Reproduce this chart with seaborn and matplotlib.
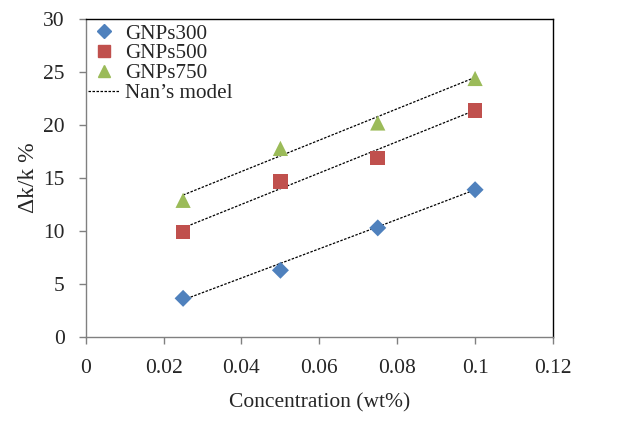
import matplotlib
matplotlib.use("Agg")
import matplotlib.pyplot as plt
import seaborn as sns
import pandas as pd
from matplotlib.lines import Line2D

concentration = [0.025, 0.05, 0.075, 0.1]
gnps300 = [3.65, 6.3, 10.3, 13.9]
gnps500 = [9.9, 14.7, 16.9, 21.4]
gnps750 = [12.9, 17.8, 20.2, 24.4]
model300 = [3.5, 6.95, 10.4, 13.9]
model500 = [10.3, 14.0, 17.7, 21.4]
model750 = [13.4, 17.1, 20.8, 24.5]
series_names = ["GNPs300", "GNPs500", "GNPs750"]
model_label = "Nan\u2019s model"
x_ticks = [0, 0.02, 0.04, 0.06, 0.08, 0.1, 0.12]
x_tick_labels = ["0", "0.02", "0.04", "0.06", "0.08", "0.1", "0.12"]
y_ticks = [0, 5, 10, 15, 20, 25, 30]

sns.set_style("white")
plt.rcParams["font.family"] = ["Liberation Serif", "DejaVu Serif"]

df = pd.DataFrame({
    "x": concentration * 3,
    "y": gnps300 + gnps500 + gnps750,
    "series": sum([[s] * 4 for s in series_names], []),
})
dm = pd.DataFrame({
    "x": concentration * 3,
    "y": model300 + model500 + model750,
    "series": sum([[s] * 4 for s in series_names], []),
})

colors = {"GNPs300": "#4F81BD", "GNPs500": "#C0504D", "GNPs750": "#9BBB59"}
markers = {"GNPs300": "D", "GNPs500": "s", "GNPs750": "^"}
sizes = {"GNPs300": 75, "GNPs500": 110, "GNPs750": 120}

fig = plt.figure(figsize=(6.4, 4.25), dpi=100)
ax = fig.add_axes([0.134, 0.207, 0.73, 0.748])

for s in series_names:
    sns.lineplot(data=dm[dm.series == s], x="x", y="y", ax=ax, color="black",
                 linestyle=(0, (2, 1.2)), linewidth=0.9, legend=False)
for s in series_names:
    sns.scatterplot(data=df[df.series == s], x="x", y="y", ax=ax,
                    color=colors[s], marker=markers[s], s=sizes[s],
                    edgecolor="none", legend=False, zorder=3)

ax.set_xlim(0, 0.12)
ax.set_ylim(0, 30)
ax.set_xticks(x_ticks)
ax.set_xticklabels(x_tick_labels)
ax.set_yticks(y_ticks)
ax.tick_params(axis="both", direction="out", length=5, width=1, color="#808080",
               labelsize=15.5, left=True, bottom=True)
ax.tick_params(axis="y", pad=10)
ax.tick_params(axis="x", pad=11)
ax.set_xlabel("Concentration (wt%)", fontsize=15.5, labelpad=11)
ax.set_ylabel("\u0394k/k %", fontsize=17, labelpad=3)

for side in ["top", "right"]:
    ax.spines[side].set_color("black")
    ax.spines[side].set_linewidth(1.0)
for side in ["left", "bottom"]:
    ax.spines[side].set_color("#808080")
    ax.spines[side].set_linewidth(1.0)

handles = [
    Line2D([], [], linestyle="none", marker="D", color=colors["GNPs300"], markersize=7),
    Line2D([], [], linestyle="none", marker="s", color=colors["GNPs500"], markersize=8),
    Line2D([], [], linestyle="none", marker="^", color=colors["GNPs750"], markersize=9),
    Line2D([], [], color="black", linestyle=(0, (2, 1.2)), linewidth=0.9),
]
ax.legend(handles, series_names + [model_label], loc="upper left",
          bbox_to_anchor=(-0.008, 1.005), frameon=False, fontsize=15.2,
          handlelength=1.5, handletextpad=0.25, labelspacing=0.0,
          borderaxespad=0.1, borderpad=0.2)

fig.savefig("out.png", dpi=100)
